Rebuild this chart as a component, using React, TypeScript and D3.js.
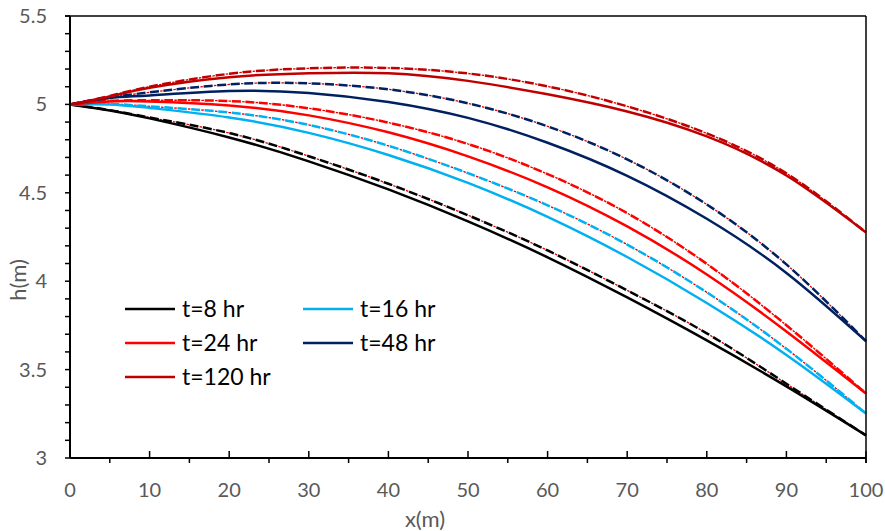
import React from 'react';
import * as d3 from 'd3';

const xs = [0, 5, 10, 20, 30, 40, 50, 60, 70, 80, 90, 100];

const h8 = [5, 4.966, 4.921, 4.813, 4.678, 4.519, 4.338, 4.135, 3.908, 3.665, 3.405, 3.128];
const h8d = [5, 4.968, 4.926, 4.838, 4.707, 4.551, 4.373, 4.174, 3.948, 3.705, 3.42, 3.128];
const h16 = [5, 5.0, 4.98, 4.926, 4.839, 4.714, 4.556, 4.364, 4.137, 3.877, 3.583, 3.252];
const h16d = [5, 5.003, 4.989, 4.954, 4.884, 4.766, 4.611, 4.429, 4.207, 3.937, 3.618, 3.252];
const h24 = [5, 5.017, 5.017, 4.994, 4.938, 4.842, 4.706, 4.531, 4.31, 4.038, 3.716, 3.365];
const h24d = [5, 5.02, 5.023, 5.019, 4.978, 4.897, 4.776, 4.606, 4.385, 4.098, 3.751, 3.365];
const h48 = [5, 5.036, 5.051, 5.076, 5.065, 5.014, 4.924, 4.783, 4.596, 4.353, 4.047, 3.661];
const h48d = [5, 5.04, 5.068, 5.113, 5.119, 5.085, 5.006, 4.876, 4.689, 4.434, 4.095, 3.661];
const h120 = [5, 5.045, 5.094, 5.154, 5.176, 5.176, 5.133, 5.057, 4.96, 4.819, 4.598, 4.276];
const h120d = [5, 5.048, 5.1, 5.173, 5.204, 5.206, 5.175, 5.102, 4.989, 4.836, 4.61, 4.276];

const labels = ['t=8 hr', 't=16 hr', 't=24 hr', 't=48 hr', 't=120 hr'];
const colors = ['#000000', '#00b0f0', '#ff0000', '#002060', '#c00000'];
const solid = [h8, h16, h24, h48, h120];
const dashed = [h8d, h16d, h24d, h48d, h120d];

const yLabels = [3, 3.5, 4, 4.5, 5, 5.5];
const xLabels = d3.range(0, 101, 10);

const W = 885;
const H = 531;
const left = 70;
const right = 866;
const top = 16;
const bottom = 458;
const font = 'Lato, Calibri, sans-serif';
const grey = '#595959';

export default function App() {
  const x = d3.scaleLinear().domain([0, 100]).range([left, right]);
  const y = d3.scaleLinear().domain([3, 5.5]).range([bottom, top]);
  const line = d3.line<number>()
    .x((d, i) => x(xs[i]))
    .y(d => y(d))
    .curve(d3.curveNatural);

  const yMinor = d3.range(30, 56).map(v => v / 10);
  const xMinor = d3.range(5, 101, 10).concat([100]);

  return (
    <svg width={W} height={H} style={{ position: 'absolute', left: 0, top: 0, background: '#fff' }}>
      {/* series */}
      {dashed.map((s, i) => (
        <g key={'d' + i}>
          <path d={line(s) || ''} fill="none" stroke={colors[i]} strokeWidth={2.5}
                strokeDasharray="9,4.5" />
          <path d={line(s) || ''} fill="none" stroke="#e00000" strokeWidth={1.3}
                strokeDasharray="2.5,11" strokeDashoffset={3.25} />
        </g>
      ))}
      {solid.map((s, i) => (
        <path key={'s' + i} d={line(s) || ''} fill="none" stroke={colors[i]} strokeWidth={2.5} />
      ))}

      {/* frame */}
      <line x1={left - 5} x2={right} y1={top} y2={top} stroke="#000" strokeWidth={1.5} />
      <line x1={right} x2={right} y1={top} y2={bottom + 5} stroke="#000" strokeWidth={1.5} />
      <line x1={left} x2={left} y1={top} y2={bottom} stroke="#000" strokeWidth={2} />
      <line x1={left} x2={right} y1={bottom} y2={bottom} stroke="#000" strokeWidth={2} />

      {/* y ticks */}
      {yMinor.map(v => (
        <line key={'yt' + v} x1={left - 5} x2={left} y1={y(v)} y2={y(v)} stroke="#000" strokeWidth={1.5} />
      ))}
      {yLabels.map(v => (
        <text key={'yl' + v} x={47} y={y(v)} dy="0.35em" textAnchor="end"
              fontFamily={font} fontSize={20} fill={grey}>{v}</text>
      ))}

      {/* x ticks */}
      {xLabels.map(v => (
        <line key={'xt' + v} x1={x(v)} x2={x(v)} y1={bottom} y2={bottom - 7} stroke="#000" strokeWidth={1.5} />
      ))}
      {xMinor.map(v => (
        <line key={'xm' + v} x1={x(v)} x2={x(v)} y1={bottom} y2={bottom + 5} stroke="#000" strokeWidth={1.5} />
      ))}
      {xLabels.map(v => (
        <text key={'xl' + v} x={x(v)} y={497} textAnchor="middle"
              fontFamily={font} fontSize={20} fill={grey}>{v}</text>
      ))}

      {/* axis titles */}
      <text x={425} y={527} textAnchor="middle" fontFamily={font} fontSize={22} fill={grey}>x(m)</text>
      <text transform="translate(26,280) rotate(-90)" textAnchor="middle" fontFamily={font}
            fontSize={22} fill={grey}>h(m)</text>

      {/* legend */}
      {labels.map((l, i) => {
        const col = i % 2;
        const row = Math.floor(i / 2);
        const lx = col === 0 ? 125 : 303;
        const ly = 309 + row * 34;
        return (
          <g key={'lg' + i}>
            <line x1={lx} x2={lx + 50} y1={ly} y2={ly} stroke={colors[i]} strokeWidth={2.5} />
            <text x={lx + 57} y={ly} dy="0.35em" fontFamily={font} fontSize={23} fill="#000">{l}</text>
          </g>
        );
      })}
    </svg>
  );
}
